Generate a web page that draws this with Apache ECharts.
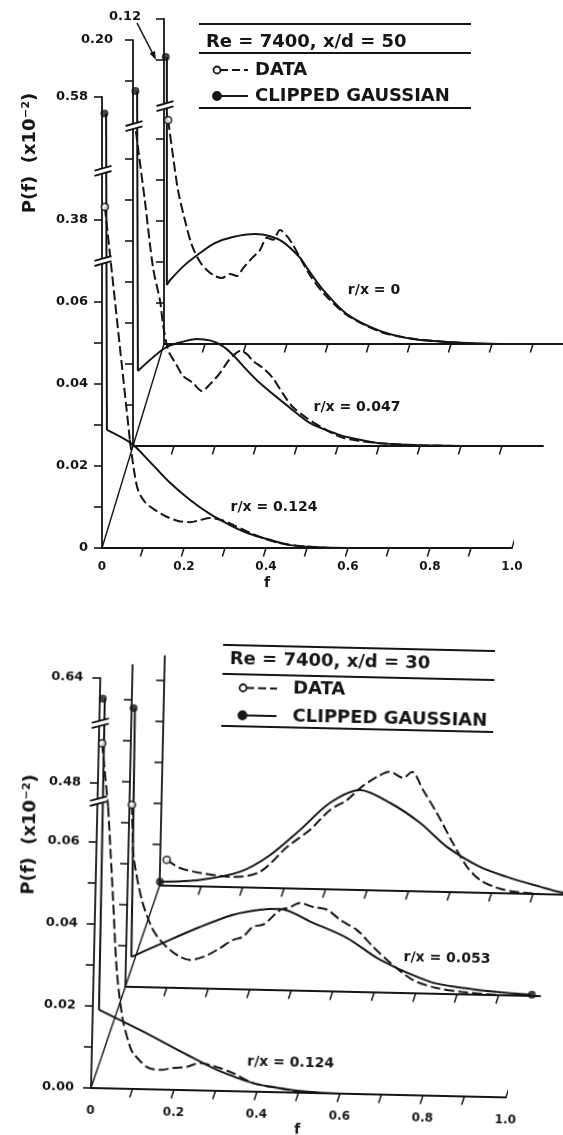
<!DOCTYPE html>
<html><head><meta charset="utf-8">
<script src="https://cdn.jsdelivr.net/npm/echarts@6/dist/echarts.min.js"></script>
<style>
html,body{margin:0;padding:0;background:#fff;}
#top{position:absolute;left:0;top:0;width:563px;height:590px;}
#bot{position:absolute;left:0;top:590px;width:563px;height:545px;transform:rotate(1.3deg);transform-origin:91px 498px;}
</style></head><body>
<div id="top"></div><div id="bot"></div>
<script>
// ---------- DATA (f, P) ; P in units of 1e-2 as labelled ----------
// Panel x/d = 50
const xd50_rx0124_gauss = [[0.01,0.576],[0.012,0.0288],[0.073,0.0254],[0.117,0.021],[0.166,0.0159],[0.215,0.0117],[0.263,0.0083],[0.312,0.0056],[0.361,0.0034],[0.41,0.002],[0.459,0.0007],[0.53,0.0002],[0.6,0]];
const xd50_rx0124_data  = [[0.007,0.3832],[0.068,0.0263],[0.078,0.019],[0.088,0.0141],[0.105,0.0112],[0.129,0.0093],[0.154,0.0078],[0.185,0.0066],[0.215,0.0063],[0.239,0.0068],[0.263,0.0073],[0.293,0.0068],[0.324,0.0054],[0.361,0.0037],[0.398,0.0022],[0.434,0.0012],[0.483,0.0005],[0.556,0]];
const xd50_rx0047_gauss = [[0.01,0.1876],[0.012,0.0183],[0.078,0.0239],[0.12,0.0254],[0.156,0.0261],[0.19,0.0257],[0.217,0.0245],[0.244,0.0222],[0.275,0.0188],[0.31,0.0153],[0.383,0.0093],[0.432,0.0056],[0.498,0.0029],[0.53,0.002],[0.6,0.0007],[0.7,0.0002],[0.85,0]];
const xd50_rx0047_data  = [[0.007,0.0768],[0.029,0.0598],[0.049,0.0434],[0.066,0.0354],[0.073,0.0298],[0.083,0.0244],[0.09,0.0224],[0.105,0.02],[0.122,0.0171],[0.146,0.0154],[0.168,0.0134],[0.188,0.0151],[0.212,0.0178],[0.232,0.0207],[0.244,0.022],[0.261,0.0232],[0.278,0.0224],[0.293,0.0207],[0.317,0.019],[0.341,0.0166],[0.366,0.0127],[0.39,0.0095],[0.424,0.0068],[0.463,0.0044],[0.512,0.002],[0.6,0.0007],[0.7,0.0002],[0.8,0]];
const xd50_rx0_gauss    = [[0.007,0.1207],[0.007,0.0144],[0.015,0.0156],[0.051,0.0193],[0.088,0.0222],[0.124,0.0246],[0.168,0.0261],[0.222,0.0268],[0.259,0.0263],[0.29,0.0249],[0.332,0.021],[0.349,0.0185],[0.388,0.0132],[0.446,0.0073],[0.527,0.0032],[0.607,0.0012],[0.69,0.0005],[0.82,0]];
const xd50_rx0_data     = [[0.01,0.0546],[0.02,0.0473],[0.034,0.0376],[0.051,0.0302],[0.068,0.0241],[0.088,0.02],[0.105,0.018],[0.124,0.0166],[0.141,0.0161],[0.161,0.0171],[0.178,0.0166],[0.193,0.0185],[0.215,0.021],[0.234,0.0229],[0.251,0.0259],[0.266,0.0254],[0.283,0.0278],[0.3,0.0263],[0.315,0.0241],[0.332,0.021],[0.356,0.0168],[0.388,0.0125],[0.446,0.0071],[0.527,0.003],[0.607,0.0013],[0.69,0.0005],[0.77,0]];
// Panel x/d = 30
const xd30_rx0124_gauss = [[0.012,0.635],[0.015,0.0191],[0.115,0.0144],[0.23,0.0086],[0.303,0.0051],[0.39,0.0021],[0.455,0.001],[0.52,0.0003],[0.6,0]];
const xd30_rx0124_data  = [[0.008,0.4897],[0.026,0.0686],[0.043,0.046],[0.056,0.0285],[0.073,0.0168],[0.092,0.0102],[0.099,0.0088],[0.134,0.0054],[0.165,0.0048],[0.196,0.0053],[0.23,0.0057],[0.261,0.0067],[0.302,0.0058],[0.341,0.0044],[0.39,0.0021],[0.455,0.001],[0.5,0.0003],[0.56,0]];
const xd30_rx0053_gauss = [[0.008,0.068],[0.013,0.0073],[0.088,0.0109],[0.177,0.015],[0.255,0.0181],[0.32,0.0195],[0.368,0.0198],[0.449,0.0166],[0.532,0.0131],[0.612,0.008],[0.734,0.0029],[0.814,0.0016],[0.896,0.0008],[0.98,0.0003]];
const xd30_rx0053_data  = [[0.006,0.0444],[0.009,0.038],[0.013,0.0317],[0.035,0.0213],[0.061,0.0145],[0.081,0.0116],[0.106,0.0092],[0.13,0.0076],[0.154,0.0069],[0.186,0.0077],[0.219,0.0095],[0.257,0.012],[0.28,0.0128],[0.304,0.0153],[0.33,0.016],[0.369,0.0196],[0.39,0.0202],[0.416,0.0214],[0.448,0.0205],[0.482,0.0199],[0.514,0.0175],[0.555,0.0151],[0.595,0.0111],[0.637,0.0073],[0.693,0.0032],[0.751,0.0014],[0.81,0.0006],[0.9,0]];
const xd30_rx0_gauss    = [[0.001,0.0009],[0.097,0.0016],[0.193,0.0038],[0.264,0.008],[0.335,0.0143],[0.406,0.0211],[0.478,0.0244],[0.551,0.0214],[0.624,0.0167],[0.69,0.011],[0.771,0.0063],[0.837,0.004],[0.917,0.0018],[0.965,0.0006],[1.0,0.0003]];
const xd30_rx0_data     = [[0.016,0.0063],[0.048,0.0044],[0.097,0.0033],[0.176,0.0025],[0.241,0.0039],[0.305,0.0101],[0.359,0.0144],[0.407,0.0194],[0.447,0.0219],[0.478,0.0249],[0.518,0.0277],[0.549,0.029],[0.581,0.0276],[0.602,0.0291],[0.629,0.0248],[0.664,0.0192],[0.704,0.012],[0.74,0.0062],[0.772,0.0031],[0.813,0.0013],[0.85,0.0005],[0.92,0]];

// axis ticks / labels / breaks
const F_TICKS  = [0.1,0.2,0.3,0.4,0.5,0.6,0.7,0.8,0.9];
const F_LABELS = [0,0.2,0.4,0.6,0.8,1.0];
const xd50_front_yticks  = [0,0.01,0.02,0.03,0.04,0.05,0.06,0.38,0.58];
const xd50_front_ylabels = [0,0.02,0.04,0.06,0.38,0.58];
const xd50_front_breaks  = [[0.07,0.37],[0.392,0.562]];
const xd50_mid_yticks    = [0.01,0.02,0.03,0.04,0.05,0.06,0.07,0.19,0.20];
const xd50_mid_ylabels   = [0.20];
const xd50_mid_breaks    = [[0.078,0.179]];
const xd50_back_yticks   = [0.01,0.02,0.03,0.04,0.05,0.12,0.13];
const xd50_back_breaks   = [[0.058,0.1087]];
const xd30_front_yticks  = [0,0.01,0.02,0.03,0.04,0.05,0.06,0.48,0.64];
const xd30_front_ylabels = [0,0.02,0.04,0.06,0.48,0.64];
const xd30_front_breaks  = [[0.07,0.4756],[0.4946,0.629]];
const xd30_mid_yticks    = [0.01,0.02,0.03,0.04,0.05,0.06,0.07];
const xd30_back_yticks   = [0.01,0.02,0.03,0.04,0.05];

// ---------- helpers ----------
const INK = '#151515';
const FONT = 'DejaVu Sans';
const LW = 2.0;
function toD(v, br){ let d=v; for(const [s,e] of br){ if(v>=e) d-=(e-s); else if(v>s) d-=(v-s);} return d; }
function fromD(d, br){ let v=d; for(const [s,e] of br){ if(v>=s-1e-9) v+=(e-s);} return v; }

function slantTick(params, api){
  const p = api.coord([api.value(0), 0]);
  return {type:'line', shape:{x1:p[0], y1:p[1], x2:p[0]-2.6, y2:p[1]+8.5}, style:{stroke:INK, lineWidth:1.5}};
}
function breakMark(params, api){
  const p = api.coord([api.value(0), api.value(1)]);
  const w=8.5, sl=2.4, g=2.6, x=p[0]+1, y=p[1];
  return {type:'group', children:[
    {type:'polygon', shape:{points:[[x-w,y-g+sl],[x+w,y-g-sl],[x+w,y+g-sl],[x-w,y+g+sl]]}, style:{fill:'#fff'}},
    {type:'line', shape:{x1:x-w,y1:y-g+sl,x2:x+w,y2:y-g-sl}, style:{stroke:INK,lineWidth:1.9}},
    {type:'line', shape:{x1:x-w,y1:y+g+sl,x2:x+w,y2:y+g-sl}, style:{stroke:INK,lineWidth:1.9}}
  ]};
}

function curveSeries(k, pts, spikeN, style){
  // leading spike segment drawn straight, remainder drawn as a smooth curve
  const out = [];
  if (spikeN > 0) out.push({type:'line', xAxisIndex:k, yAxisIndex:k, data:pts.slice(0, spikeN+1), symbol:'none', silent:true, z:3, lineStyle:style});
  out.push({type:'line', xAxisIndex:k, yAxisIndex:k, data:pts.slice(spikeN), symbol:'none', silent:true, z:3, smooth:0.3, lineStyle:style});
  return out;
}

function buildOption(cfg){
  const grid=[], xAxis=[], yAxis=[], series=[];
  const n = cfg.slices.length;
  cfg.slices.forEach((s,k)=>{
    const br = s.breaks || [];
    const ymaxD = toD(s.ymax, br);
    const left = cfg.ox + k*cfg.dx, bottom = cfg.oy - k*cfg.dy, h = ymaxD*cfg.sy;
    grid.push({left:left, top:bottom-h, width:cfg.sx, height:h, containLabel:false, outerBoundsMode:'none'});
    xAxis.push({type:'value', gridIndex:k, min:0, max:1, position:'bottom',
      axisLine:{show:true, onZero:false, lineStyle:{color:INK, width:1.8}},
      axisTick:{show:false}, splitLine:{show:false},
      axisLabel:{show:k===0, customValues:F_LABELS, formatter:v=>v===0?'0':v.toFixed(1),
        color:INK, fontFamily:FONT, fontWeight:'bold', fontSize:12, margin:cfg.xLabelMargin}});
    yAxis.push({type:'value', gridIndex:k, min:0, max:ymaxD, position:'left',
      axisLine:{show:true, onZero:false, lineStyle:{color:INK, width:1.8}},
      axisTick:{show:true, length:8, lineStyle:{color:INK, width:1.6}, customValues:s.yTicks.map(v=>toD(v,br))},
      axisLabel:{show:(s.yLabels||[]).length>0, customValues:(s.yLabels||[]).map(v=>toD(v,br)),
        formatter:v=>cfg.yFmt(fromD(v,br)), color:INK, fontFamily:FONT, fontWeight:'bold', fontSize:13,
        margin:s.labelMargin||cfg.yLabelMargin},
      splitLine:{show:false}});
    const mp = arr=>arr.map(([f,p])=>[f,toD(p,br)]);
    const g = mp(s.gauss), d = mp(s.data);
    curveSeries(k, g, s.gSpike, {color:INK, width:LW}).forEach(x=>series.push(x));
    curveSeries(k, d, s.dSpike, {color:INK, width:LW, type:[10,4]}).forEach(x=>series.push(x));
    const filled = [];
    if (s.gaussDot) filled.push([g[0][0]*0.6, g[0][1]]);
    if (s.gaussEndDot) filled.push(g[g.length-1]);
    if (filled.length) series.push({type:'scatter', xAxisIndex:k, yAxisIndex:k, data:filled, symbol:'circle', symbolSize:8, silent:true, z:6, itemStyle:{color:INK}});
    if (s.dataCircle) series.push({type:'scatter', xAxisIndex:k, yAxisIndex:k, data:[d[0]], symbol:'circle', symbolSize:7, silent:true, z:6, itemStyle:{color:'#fff', borderColor:INK, borderWidth:1.8}});
    series.push({type:'custom', xAxisIndex:k, yAxisIndex:k, data:F_TICKS.map(v=>[v,0]), renderItem:slantTick, silent:true, z:4});
    if (br.length) series.push({type:'custom', xAxisIndex:k, yAxisIndex:k, data:br.map(b=>[0,toD(b[0],br)]), renderItem:breakMark, silent:true, z:8, clip:false});
  });
  const m = n-1, dxF = cfg.dx/cfg.sx, dyD = cfg.dy/cfg.sy;
  series.push({type:'line', xAxisIndex:0, yAxisIndex:0, data:[[0,0],[m*dxF,m*dyD]], symbol:'none', clip:false, silent:true, lineStyle:{color:INK,width:1.4}});
  series.push({type:'line', xAxisIndex:0, yAxisIndex:0, data:[[1,0],[1+m*dxF,m*dyD]], symbol:'none', clip:false, silent:true, lineStyle:{color:INK,width:1.4}});
  return {animation:false, backgroundColor:'transparent', textStyle:{fontFamily:FONT}, grid, xAxis, yAxis, series, graphic:cfg.graphic};
}

// graphic helpers
const L = (x1,y1,x2,y2,w,dash)=>({type:'line', silent:true, shape:{x1,y1,x2,y2}, style:{stroke:INK, lineWidth:w||2, lineDash:dash||null}});
const T = (text,x,y,size,align,rot)=>({type:'text', silent:true, x, y, rotation:rot||0, style:{text, fill:INK, fontFamily:FONT, fontWeight:'bold', fontSize:size, align:align||'left', verticalAlign:'middle'}});
const C = (cx,cy,r,open)=>({type:'circle', silent:true, shape:{cx,cy,r}, style:{fill:open?'#fff':INK, stroke:INK, lineWidth:1.8}, z:10});

function legend(x0,x1,yTop,yTitle,yMid,yData,yGauss,yBot,symX,lineEnd,textX,title){
  return [
    L(x0,yTop,x1,yTop), T(title, x0+7, yTitle, 18),
    L(x0,yMid,x1,yMid),
    L(symX+3,yData,lineEnd,yData,2,[8,4]), C(symX,yData,3.5,true), T('DATA', textX, yData, 18),
    L(symX,yGauss,lineEnd,yGauss,2), C(symX,yGauss,4,false), T('CLIPPED GAUSSIAN', textX, yGauss, 18),
    L(x0,yBot,x1,yBot)
  ];
}

const topGraphic = [].concat(
  legend(199,471,24,42,53,70,96,108,217,248,255,'Re = 7400, x/d = 50'),
  [
    T('P(f)  (x10\u207B\u00B2)', 30, 153, 18, 'center', Math.PI/2),
    T('r/x = 0', 374, 290, 14, 'center'),
    T('r/x = 0.047', 357, 407, 14, 'center'),
    T('r/x = 0.124', 274, 507, 14, 'center'),
    T('f', 267, 583, 14, 'center'),
    T('0.12', 125, 17, 13, 'center'),
    L(137,23,153,54,1.6),
    {type:'polygon', silent:true, shape:{points:[[156,60],[149.6,53.6],[155.0,51.0]]}, style:{fill:INK}}
  ]
);
const botGraphic = [].concat(
  legend(213,485,52,66.5,81,94.5,122,133,234,268,284,'Re = 7400, x/d = 30'),
  [
    T('P(f)  (x10\u207B\u00B2)', 24, 246, 18, 'center', Math.PI/2),
    T('r/x = 0.053', 444, 360, 14, 'center'),
    T('r/x = 0.124', 290, 468, 14, 'center'),
    T('f', 298, 535, 14, 'center')
  ]
);

const topCfg = {
  ox:102, oy:548, sx:410, sy:4100, dx:31, dy:102, xLabelMargin:13, yLabelMargin:14,
  yFmt:v=>Math.abs(v)<1e-9?'0':v.toFixed(2),
  slices:[
    {gauss:xd50_rx0124_gauss, data:xd50_rx0124_data, gSpike:1, dSpike:1, breaks:xd50_front_breaks, ymax:0.58, yTicks:xd50_front_yticks, yLabels:xd50_front_ylabels, gaussDot:true, dataCircle:true},
    {gauss:xd50_rx0047_gauss, data:xd50_rx0047_data, gSpike:1, dSpike:0, breaks:xd50_mid_breaks, ymax:0.20, yTicks:xd50_mid_yticks, yLabels:xd50_mid_ylabels, labelMargin:20, gaussDot:true},
    {gauss:xd50_rx0_gauss, data:xd50_rx0_data, gSpike:1, dSpike:0, breaks:xd50_back_breaks, ymax:0.13, yTicks:xd50_back_yticks, gaussDot:true, dataCircle:true}
  ],
  graphic: topGraphic
};
const botCfg = {
  ox:91, oy:498, sx:415, sy:4100, dx:32, dy:102, xLabelMargin:17, yLabelMargin:17,
  yFmt:v=>v.toFixed(2),
  slices:[
    {gauss:xd30_rx0124_gauss, data:xd30_rx0124_data, gSpike:1, dSpike:1, breaks:xd30_front_breaks, ymax:0.64, yTicks:xd30_front_yticks, yLabels:xd30_front_ylabels, gaussDot:true, dataCircle:true},
    {gauss:xd30_rx0053_gauss, data:xd30_rx0053_data, gSpike:1, dSpike:0, breaks:[], ymax:0.0785, yTicks:xd30_mid_yticks, gaussDot:true, gaussEndDot:true, dataCircle:true},
    {gauss:xd30_rx0_gauss, data:xd30_rx0_data, gSpike:0, dSpike:0, breaks:[], ymax:0.056, yTicks:xd30_back_yticks, gaussDot:true, dataCircle:true}
  ],
  graphic: botGraphic
};

echarts.init(document.getElementById('top'), null, {renderer:'canvas'}).setOption(buildOption(topCfg));
echarts.init(document.getElementById('bot'), null, {renderer:'canvas'}).setOption(buildOption(botCfg));
</script>
</body></html>
